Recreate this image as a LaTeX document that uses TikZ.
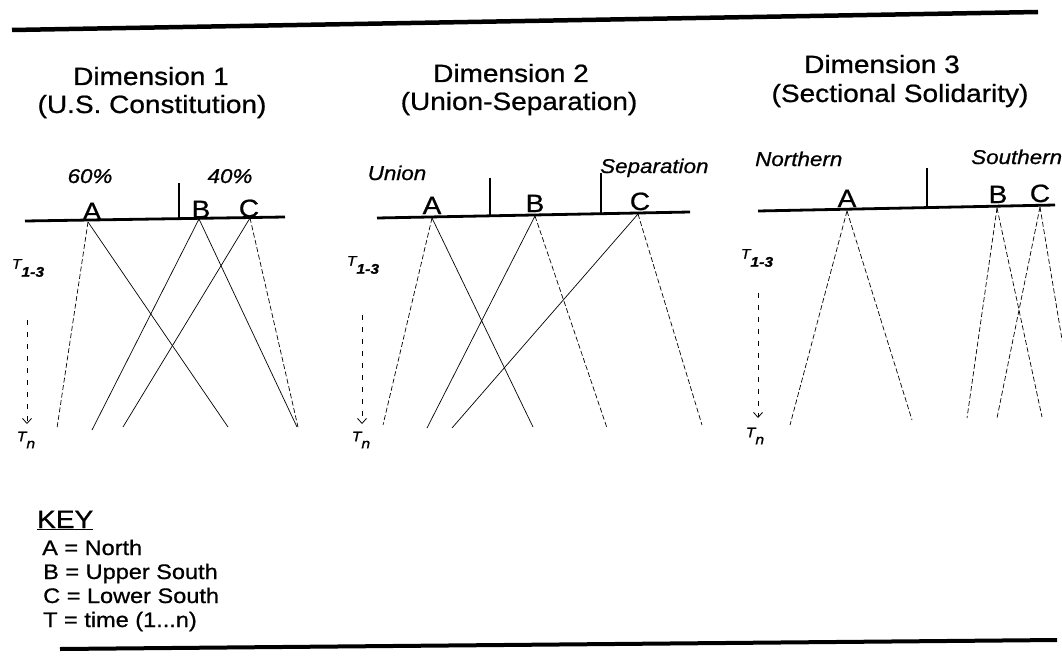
\documentclass[tikz,border=0pt]{standalone}
\usepackage{fontspec}
\setmainfont{Liberation Sans}[FakeStretch=1.12, FakeBold=0.8]
\usetikzlibrary{positioning, arrows.meta, calc}

\begin{document}
\begin{tikzpicture}[x=1pt, y=-1pt,
        title/.style={font=\fontsize{25}{28}\selectfont, anchor=base, inner sep=0pt},
        pole/.style={font=\fontsize{20}{22}\selectfont\itshape, anchor=base, inner sep=0pt},
        region/.style={font=\fontsize{25}{27}\selectfont, anchor=base, inner sep=0pt},
        keytext/.style={font=\fontsize{21}{24}\selectfont, anchor=base west, inner sep=0pt},
        tlabel/.style={font=\fontsize{14}{16}\selectfont\itshape, inner sep=0pt},
        rule/.style={line width=4.5pt},
        axis/.style={line width=2.8pt},
        divider/.style={line width=1.8pt},
        traj/.style={line width=0.7pt},
        trajdash/.style={line width=0.7pt, dash pattern=on 5pt off 2.5pt},
        timeline/.style={line width=0.8pt, dash pattern=on 5pt off 7pt, -{Straight Barb[length=5pt, width=9pt]}}
    ]
    \useasboundingbox (0,0) rectangle (1062,658);
    \clip (0,0) rectangle (1062,658);

    % Linien oben und unten
    \coordinate (topL) at (12,30);
    \coordinate (topR) at (1038,12);
    \draw[rule] (topL) -- (topR);
    \coordinate (botL) at (60,649);
    \coordinate (botR) at (1057,640);
    \draw[rule, line width=4pt] (botL) -- (botR);

    % Titel
    \node[title] (d1) at (151,85) {Dimension 1};
    \node[title] (d1s) at (152,113) {(U.S. Constitution)};
    \node[title] (d2) at (511,82) {Dimension 2};
    \node[title] (d2s) at (519,110) {(Union-Separation)};
    \node[title] (d3) at (882,73) {Dimension 3};
    \node[title] (d3s) at (900,102) {(Sectional Solidarity)};

    % Dimension 1
    \coordinate (ax1w) at (25,221);
    \coordinate (ax1e) at (285,217);
    \draw[axis] (ax1w) -- (ax1e);
    \draw[divider] (179,183) -- (179,219.5);
    \node[pole] (p60) at (90,183) {60\%};
    \node[pole] (p40) at (230,183) {40\%};
    \node[region] (lA1) at (92,220) {A};
    \node[region] (lB1) at (201,218) {B};
    \node[region] (lC1) at (249,217) {C};
    \coordinate (A1) at (88,222);
    \coordinate (B1) at (199,219);
    \coordinate (C1) at (250,218);
    \coordinate (A1l) at (57,428);
    \coordinate (A1r) at (228,427);
    \coordinate (B1l) at (92,430);
    \coordinate (B1r) at (297,427);
    \coordinate (C1l) at (123,427);
    \coordinate (C1r) at (298,427);
    \draw[trajdash] (A1) -- (A1l);
    \draw[traj] (A1) -- (A1r);
    \draw[traj] (B1) -- (B1l);
    \draw[traj] (B1) -- (B1r);
    \draw[traj] (C1) -- (C1l);
    \draw[trajdash] (C1) -- (C1r);
    \node[tlabel] (t1) at (28,268) {T\raisebox{-8pt}{\bfseries 1-3}};
    \coordinate (tl1s) at (27,320);
    \coordinate (tl1e) at (27,424);
    \draw[timeline] (tl1s) -- (tl1e);
    \node[tlabel] (tn1) at (26,440) {T\raisebox{-7pt}{n}};

    % Dimension 2
    \coordinate (ax2w) at (377,218);
    \coordinate (ax2e) at (690,212);
    \draw[axis] (ax2w) -- (ax2e);
    \draw[divider] (490,178) -- (490,216);
    \draw[divider] (601,173) -- (601,214);
    \node[pole] (pu) at (397,180) {Union};
    \node[pole, anchor=base west] (ps) at (600,173) {Separation};
    \node[region] (lA2) at (432,214) {A};
    \node[region] (lB2) at (535,212) {B};
    \node[region] (lC2) at (640,210) {C};
    \coordinate (A2) at (432,218);
    \coordinate (B2) at (535,216);
    \coordinate (C2) at (638,214);
    \coordinate (A2l) at (383,425);
    \coordinate (A2r) at (533,427);
    \coordinate (B2l) at (427,428);
    \coordinate (B2r) at (607,428);
    \coordinate (C2l) at (452,428);
    \coordinate (C2r) at (702,425);
    \draw[trajdash] (A2) -- (A2l);
    \draw[traj] (A2) -- (A2r);
    \draw[traj] (B2) -- (B2l);
    \draw[trajdash] (B2) -- (B2r);
    \draw[traj] (C2) -- (C2l);
    \draw[trajdash] (C2) -- (C2r);
    \node[tlabel] (t2) at (363,265) {T\raisebox{-8pt}{\bfseries 1-3}};
    \coordinate (tl2s) at (362,315);
    \coordinate (tl2e) at (362,424);
    \draw[timeline] (tl2s) -- (tl2e);
    \node[tlabel] (tn2) at (361,440) {T\raisebox{-7pt}{n}};

    % Dimension 3
    \coordinate (ax3w) at (758,211);
    \coordinate (ax3e) at (1055,205);
    \draw[axis] (ax3w) -- (ax3e);
    \draw[divider] (927,168) -- (927,208);
    \node[pole, anchor=base west] (pn) at (755,166) {Northern};
    \node[pole, anchor=base west] (pso) at (971,164) {Southern};
    \node[region] (lA3) at (847,207) {A};
    \node[region] (lB3) at (998,203) {B};
    \node[region] (lC3) at (1040,202) {C};
    \coordinate (A3) at (847,211);
    \coordinate (B3) at (997,208);
    \coordinate (C3) at (1040,207);
    \coordinate (A3l) at (790,425);
    \coordinate (A3r) at (912,420);
    \coordinate (B3l) at (967,418);
    \coordinate (B3r) at (1042,417);
    \coordinate (C3l) at (997,418);
    \coordinate (C3r) at (1075,418);
    \draw[trajdash] (A3) -- (A3l);
    \draw[trajdash] (A3) -- (A3r);
    \draw[trajdash] (B3) -- (B3l);
    \draw[trajdash] (B3) -- (B3r);
    \draw[trajdash] (C3) -- (C3l);
    \draw[trajdash] (C3) -- (C3r);
    \node[tlabel] (t3) at (757,258) {T\raisebox{-8pt}{\bfseries 1-3}};
    \coordinate (tl3s) at (758,293);
    \coordinate (tl3e) at (758,418);
    \draw[timeline] (tl3s) -- (tl3e);
    \node[tlabel] (tn3) at (755,436) {T\raisebox{-7pt}{n}};

    % Legende
    \node[keytext, font=\fontsize{25}{27}\selectfont] (key) at (37,528) {\underline{KEY}};
    \node[keytext] (kA) at (42,555) {A = North};
    \node[keytext] (kB) at (43,579) {B = Upper South};
    \node[keytext] (kC) at (43,603) {C = Lower South};
    \node[keytext] (kT) at (43,627) {T = time (1...n)};

\end{tikzpicture}
\end{document}
